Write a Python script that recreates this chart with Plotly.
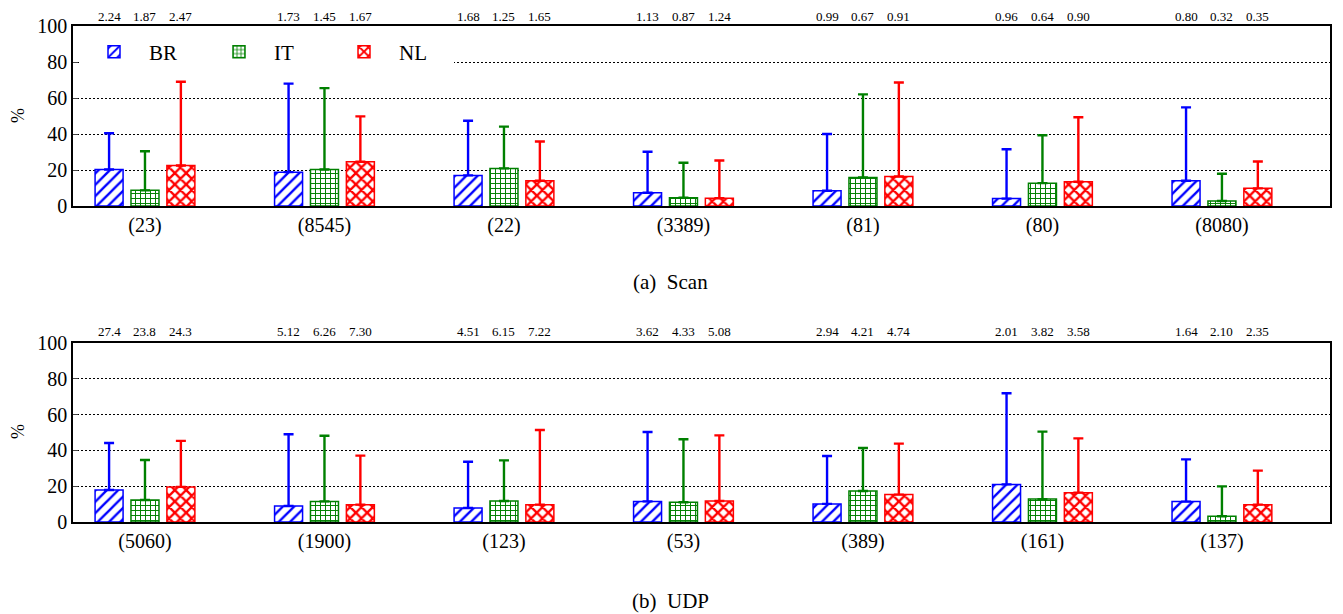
import plotly.graph_objects as go

# ---------------- data ----------------
series = ["BR", "IT", "NL"]
colors = ["#0000ff", "#008000", "#ff0000"]
shapes = ["/", "+", "x"]

scan_cats = ["(23)", "(8545)", "(22)", "(3389)", "(81)", "(80)", "(8080)"]
scan_mean = {
    "BR": [20.3, 18.8, 17.0, 7.4, 8.5, 4.1, 14.0],
    "IT": [8.7, 20.3, 20.9, 4.6, 15.9, 12.7, 2.8],
    "NL": [22.5, 24.6, 14.0, 4.3, 16.4, 13.5, 9.8],
}
scan_upper = {
    "BR": [40.4, 68.0, 47.4, 30.1, 40.0, 31.5, 54.8],
    "IT": [30.4, 65.5, 44.1, 24.0, 62.0, 39.3, 17.9],
    "NL": [69.0, 49.8, 35.8, 25.3, 68.6, 49.3, 24.7],
}
scan_top = {
    "BR": ["2.24", "1.73", "1.68", "1.13", "0.99", "0.96", "0.80"],
    "IT": ["1.87", "1.45", "1.25", "0.87", "0.67", "0.64", "0.32"],
    "NL": ["2.47", "1.67", "1.65", "1.24", "0.91", "0.90", "0.35"],
}

udp_cats = ["(5060)", "(1900)", "(123)", "(53)", "(389)", "(161)", "(137)"]
udp_mean = {
    "BR": [17.9, 8.9, 7.8, 11.5, 10.1, 21.0, 11.4],
    "IT": [12.3, 11.5, 11.7, 11.0, 17.3, 12.8, 3.2],
    "NL": [19.6, 9.7, 9.7, 11.7, 15.3, 16.4, 9.7],
}
udp_upper = {
    "BR": [44.1, 49.0, 33.7, 50.3, 36.9, 71.9, 35.0],
    "IT": [34.6, 48.2, 34.4, 46.2, 41.3, 50.5, 19.9],
    "NL": [45.3, 37.1, 51.4, 48.4, 43.8, 46.7, 28.7],
}
udp_top = {
    "BR": ["27.4", "5.12", "4.51", "3.62", "2.94", "2.01", "1.64"],
    "IT": ["23.8", "6.26", "6.15", "4.33", "4.21", "3.82", "2.10"],
    "NL": ["24.3", "7.30", "7.22", "5.08", "4.74", "3.58", "2.35"],
}

yticks = [0, 20, 40, 60, 80, 100]
captions = ["(a)  Scan", "(b)  UDP"]

# ---------------- figure ----------------
W, H = 1343, 614
OFF = 8  # page body margin offset
FONT = "Liberation Serif"


def fx(px):
    return (px - OFF) / W


def fy(py):
    return 1 - (py - OFF) / H


fig = go.Figure()

panels = [
    (scan_cats, scan_mean, scan_upper, scan_top, "x", "y"),
    (udp_cats, udp_mean, udp_upper, udp_top, "x2", "y2"),
]

pat = {
    "/": dict(size=8, solidity=0.3),
    "+": dict(size=5, solidity=0.35),
    "x": dict(size=8, solidity=0.5),
}

for p, (cats, mean, upper, top, xa, ya) in enumerate(panels):
    for k, s in enumerate(series):
        plus = [u - m for u, m in zip(upper[s], mean[s])]
        fig.add_trace(go.Bar(
            x=list(range(len(cats))), y=mean[s], name=s,
            xaxis=xa, yaxis=ya,
            showlegend=(p == 0),
            marker=dict(
                color="white",
                line=dict(color=colors[k], width=1.5),
                pattern=dict(shape=shapes[k], fgcolor=colors[k], bgcolor="white",
                             fgopacity=1, fillmode="replace", **pat[shapes[k]]),
            ),
            error_y=dict(type="data", symmetric=False, array=plus,
                         arrayminus=[0] * len(plus), color=colors[k],
                         thickness=2.4, width=5),
            offsetgroup=s,
        ))

# value annotations above each group
offsets = [-0.2, 0.0, 0.2]
ann_pos = [(1.0, "top"), (fy(331), "middle")]
for p, (cats, mean, upper, top, xa, ya) in enumerate(panels):
    yv, anc = ann_pos[p]
    for k, s in enumerate(series):
        for i, t in enumerate(top[s]):
            fig.add_annotation(x=i + offsets[k], y=yv, xref=xa, yref="paper",
                               text=t, showarrow=False, yanchor=anc, borderpad=0,
                               font=dict(family=FONT, size=13, color="black"))

# y-axis "%" titles
for yc in [116, 432]:
    fig.add_annotation(x=fx(18), y=fy(yc), xref="paper", yref="paper", text="%",
                       textangle=-90, showarrow=False, xanchor="center", yanchor="middle",
                       font=dict(family=FONT, size=18, color="black"))

# captions
for txt, yc in zip(captions, [282, 601]):
    fig.add_annotation(x=fx(670), y=fy(yc), xref="paper", yref="paper", text=txt,
                       showarrow=False, xanchor="center", yanchor="middle",
                       font=dict(family=FONT, size=21, color="black"))

xdom = [fx(73), fx(1330)]
common_x = dict(domain=xdom, range=[-0.401, 6.602], showline=True, mirror=True,
                linecolor="black", linewidth=1.5, ticks="", showgrid=False,
                zeroline=False, automargin=False,
                tickfont=dict(family=FONT, size=20, color="black"))
common_y = dict(range=[0, 100], tickvals=yticks, showline=True, mirror=True,
                linecolor="black", linewidth=1.5, ticks="inside", ticklen=5,
                showgrid=True, gridcolor="black", griddash="2px,2px", gridwidth=1,
                zeroline=False, automargin=False,
                tickfont=dict(family=FONT, size=20, color="black"))

fig.update_layout(
    width=W, height=H,
    margin=dict(l=0, r=0, t=0, b=0, autoexpand=False),
    paper_bgcolor="white", plot_bgcolor="white",
    barmode="group", bargap=0.4, bargroupgap=0.22,
    font=dict(family=FONT, color="black"),
    xaxis=dict(common_x, anchor="y", tickvals=list(range(7)), ticktext=scan_cats),
    yaxis=dict(common_y, anchor="x", domain=[fy(206), fy(26)]),
    xaxis2=dict(common_x, anchor="y2", tickvals=list(range(7)), ticktext=udp_cats),
    yaxis2=dict(common_y, anchor="x2", domain=[fy(522), fy(343)]),
    legend=dict(orientation="h", x=fx(79), y=fy(52), xanchor="left", yanchor="middle",
                bgcolor="white", font=dict(family=FONT, size=21, color="black"),
                entrywidth=50, entrywidthmode="pixels", itemwidth=60,
                traceorder="normal"),
)

fig.write_html("out.html")
